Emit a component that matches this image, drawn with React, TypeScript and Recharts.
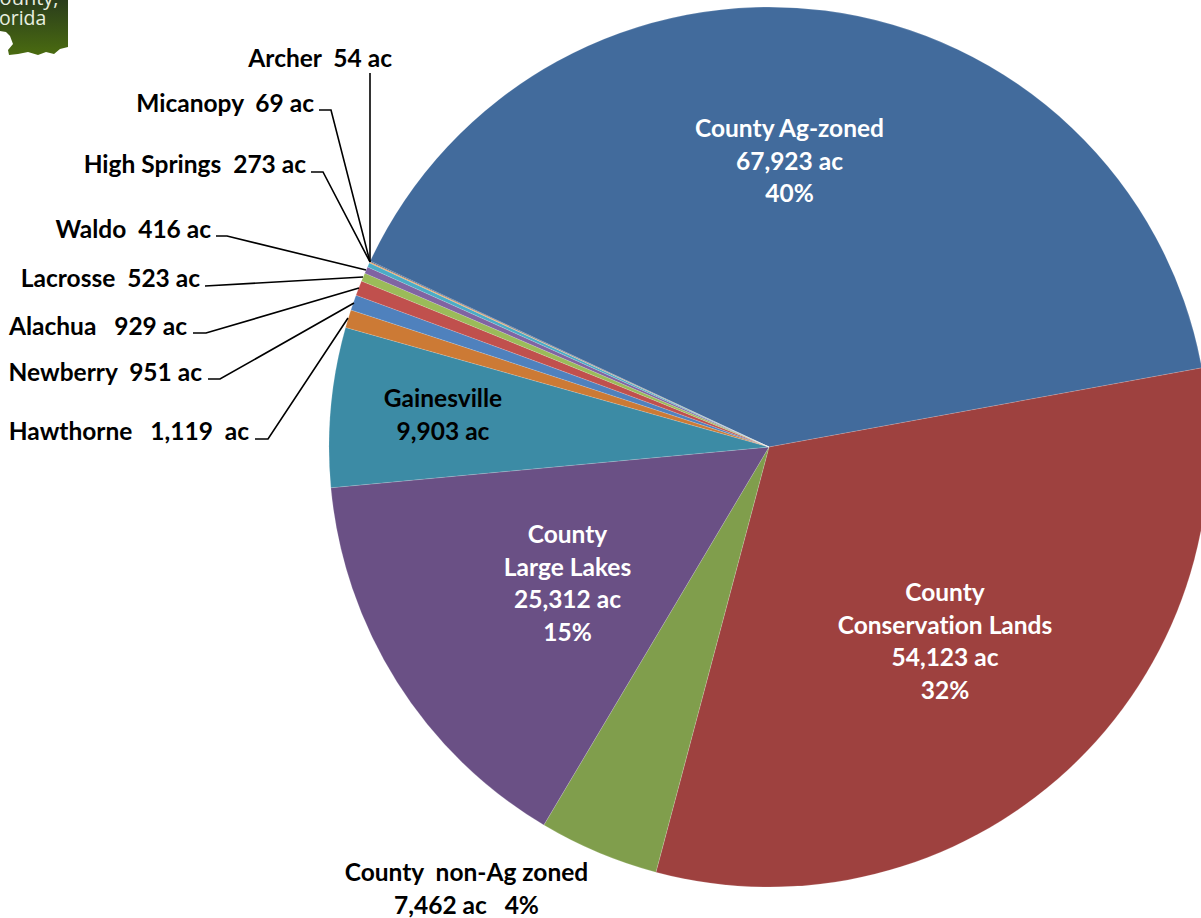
import { PieChart, Pie, Cell } from "recharts";

const names = ["County Ag-zoned", "County Conservation Lands", "County non-Ag zoned", "County Large Lakes", "Gainesville", "Hawthorne", "Newberry", "Alachua", "Lacrosse", "Waldo", "High Springs", "Micanopy", "Archer"];
const acres = [67923, 54123, 7462, 25312, 9903, 1119, 951, 929, 523, 416, 273, 69, 54];
const colors = ["#426B9C", "#9E413F", "#809E4C", "#6A5085", "#3C8BA5", "#CC7A35", "#4F81BD", "#C0504D", "#9BBB59", "#8064A2", "#4BACC6", "#F79646", "#2C4D75"];

const data = names.map((name, i) => ({ name, value: acres[i] }));

// text blocks inside / below the pie: x, first baseline y, fill, lines
const blockLabels = [
  { x: 789.5, y: 137, fill: "#fff", lines: ["County Ag-zoned", "67,923 ac", "40%"] },
  { x: 945, y: 601, fill: "#fff", lines: ["County", "Conservation Lands", "54,123 ac", "32%"] },
  { x: 567.5, y: 543, fill: "#fff", lines: ["County", "Large Lakes", "25,312 ac", "15%"] },
  { x: 443, y: 407, fill: "#000", lines: ["Gainesville", "9,903 ac"] },
  { x: 466.5, y: 881, fill: "#000", lines: ["County  non-Ag zoned", "7,462 ac   4%"] },
];

// small slices with leader lines: name -> right end of text, baseline, elbow points
const leaderLabels = [
  { text: "Hawthorne   1,119  ac", right: 249, y: 440, line: "255,439 268,439 348,318" },
  { text: "Newberry  951 ac", right: 202, y: 381, line: "208,379 220,379 354,303" },
  { text: "Alachua   929 ac", right: 187, y: 335, line: "193,333 206,333 359,288" },
  { text: "Lacrosse  523 ac", right: 200, y: 287, line: "205,286 363,277" },
  { text: "Waldo  416 ac", right: 211, y: 238, line: "216,236 227,236 366,270" },
  { text: "High Springs  273 ac", right: 306, y: 173, line: "311,172 323,172 370,262" },
  { text: "Micanopy  69 ac", right: 314, y: 112, line: "319,110 331,110 370,262" },
  { text: "Archer  54 ac", right: 392, y: 67, line: "370,73 370,262" },
];

const FONT = "Lato, sans-serif";
const LINE_H = 32.5;

function Logo() {
  return (
    <svg width={70} height={56} style={{ position: "absolute", left: 0, top: 0 }}>
      <defs>
        <linearGradient id="logoGrad" x1="0" y1="0" x2="0" y2="1">
          <stop offset="0" stopColor="#2a3d1c" />
          <stop offset="1" stopColor="#4a6b10" />
        </linearGradient>
      </defs>
      <path d="M0 0 H68 V47 L60 49 L54 54 L46 52 L38 55 L28 52 L18 54 L9 55 L8 50 L13 44 L10 36 L6 32 L0 31 Z" fill="url(#logoGrad)" />
      <text x={-13} y={5} fontFamily="'Open Sans', sans-serif" fontSize={20} fill="#e8efe0">County,</text>
      <text x={-16} y={25} fontFamily="'Open Sans', sans-serif" fontSize={19.5} fill="#e8efe0">Florida</text>
    </svg>
  );
}

export default function App() {
  return (
    <div style={{ position: "absolute", left: 0, top: 0, width: 1201, height: 918, overflow: "hidden", background: "#fff" }}>
      <Logo />
      <div style={{ position: "absolute", left: 0, top: 0 }}>
        <PieChart width={1201} height={918} margin={{ top: 0, right: 0, bottom: 0, left: 0 }}>
          <Pie
            data={data}
            dataKey="value"
            nameKey="name"
            cx={769}
            cy={447}
            innerRadius={0}
            outerRadius={440}
            startAngle={155}
            endAngle={-205}
            stroke="#ffffff"
            strokeOpacity={0.3}
            strokeWidth={0.5}
            label={false}
            labelLine={false}
            isAnimationActive={false}
          >
            {data.map((d, i) => (
              <Cell key={d.name} fill={colors[i]} />
            ))}
          </Pie>
        </PieChart>
      </div>
      <svg width={1201} height={918} style={{ position: "absolute", left: 0, top: 0, fontVariantLigatures: "none" }} fontFamily={FONT} fontWeight={700} fontSize={24.5}>
        {leaderLabels.map((l) => (
          <g key={l.text}>
            <polyline points={l.line} fill="none" stroke="#000" strokeWidth={1.6} />
            <text x={l.right} y={l.y} textAnchor="end" fill="#000" style={{ whiteSpace: "pre" }}>{l.text}</text>
          </g>
        ))}
        {blockLabels.map((b) => (
          <text key={b.lines[0] + b.x} fill={b.fill} textAnchor="middle" style={{ whiteSpace: "pre" }}>
            {b.lines.map((t, i) => (
              <tspan key={i} x={b.x} y={b.y + i * LINE_H}>{t}</tspan>
            ))}
          </text>
        ))}
      </svg>
    </div>
  );
}
